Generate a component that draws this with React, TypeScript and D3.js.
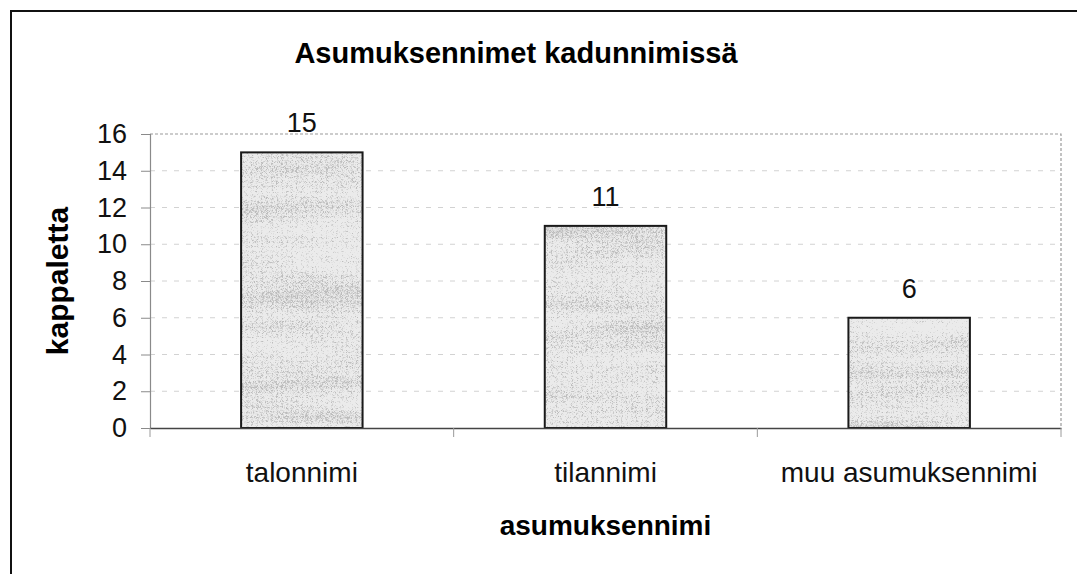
import React, { useEffect, useRef } from 'react';
import * as d3 from 'd3';

const categories = ['talonnimi', 'tilannimi', 'muu asumuksennimi'];
const counts = [15, 11, 6];
const yTicks = [0, 2, 4, 6, 8, 10, 12, 14, 16];

const chartTitle = 'Asumuksennimet kadunnimissä';
const xTitle = 'asumuksennimi';
const yTitle = 'kappaletta';

function BarChart({ width = 1077, height = 574 }) {
  const svgRef = useRef<SVGSVGElement>(null);

  useEffect(() => {
    const margin = { top: 134, right: 16, bottom: 146, left: 150 };
    const font = 'Arial, "Liberation Sans", sans-serif';

    const svg = d3.select(svgRef.current);
    svg.selectAll('*').remove();
    svg.attr('width', width).attr('height', height);

    // speckled, banded texture for the bars, like the scanned original
    const defs = svg.append('defs');
    const grain = defs.append('filter').attr('id', 'grain')
      .attr('x', 0).attr('y', 0).attr('width', 1).attr('height', 1);
    grain.append('feTurbulence')
      .attr('type', 'fractalNoise')
      .attr('baseFrequency', '0.004 0.045')
      .attr('numOctaves', 2)
      .attr('seed', 11)
      .attr('result', 'bands');
    grain.append('feTurbulence')
      .attr('type', 'turbulence')
      .attr('baseFrequency', '1.2')
      .attr('numOctaves', 1)
      .attr('seed', 4)
      .attr('result', 'noise');
    grain.append('feComposite')
      .attr('in', 'noise').attr('in2', 'bands')
      .attr('operator', 'arithmetic')
      .attr('k1', 0).attr('k2', 1.0).attr('k3', 0.6).attr('k4', 0)
      .attr('result', 'mix');
    grain.append('feColorMatrix')
      .attr('in', 'mix')
      .attr('type', 'matrix')
      .attr('values', '0 0 0 0 0.5  0 0 0 0 0.5  0 0 0 0 0.5  0 0 0 3.0 -1.3')
      .attr('result', 'dots');
    grain.append('feComposite')
      .attr('in', 'dots').attr('in2', 'SourceGraphic').attr('operator', 'in')
      .attr('result', 'clipped');
    const merge = grain.append('feMerge');
    merge.append('feMergeNode').attr('in', 'SourceGraphic');
    merge.append('feMergeNode').attr('in', 'clipped');

    const x = d3.scaleBand()
      .domain(categories)
      .range([margin.left, width - margin.right])
      .paddingInner(0.6)
      .paddingOuter(0.3);

    const y = d3.scaleLinear()
      .domain([0, 16])
      .range([height - margin.bottom, margin.top]);

    const x0 = margin.left;
    const x1 = width - margin.right;
    const y0 = y(0);
    const y1 = y(16);

    // outer chart border (right and bottom edges fall outside the picture)
    svg.append('rect')
      .attr('x', 11).attr('y', 11)
      .attr('width', width + 20).attr('height', height + 20)
      .attr('fill', 'white')
      .attr('stroke', '#111')
      .attr('stroke-width', 2);

    // gridlines
    svg.append('g')
      .selectAll('line')
      .data(yTicks.filter(t => t > 0 && t < 16))
      .join('line')
      .attr('x1', x0).attr('x2', x1)
      .attr('y1', d => y(d)).attr('y2', d => y(d))
      .attr('stroke', '#d2d2d2')
      .attr('stroke-width', 1)
      .attr('stroke-dasharray', '5,7');

    // plot area border
    svg.append('path')
      .attr('d', `M${x0},${y1}H${x1}V${y0}`)
      .attr('fill', 'none')
      .attr('stroke', '#9a9a9a')
      .attr('stroke-width', 1.2)
      .attr('stroke-dasharray', '3,2');

    // bars
    const bars = svg.append('g');
    bars.selectAll('rect.fill')
      .data(counts)
      .join('rect')
      .attr('class', 'fill')
      .attr('x', (d, i) => x(categories[i]))
      .attr('y', d => y(d))
      .attr('width', x.bandwidth())
      .attr('height', d => y0 - y(d))
      .attr('fill', '#ebebeb')
      .attr('filter', 'url(#grain)');
    bars.selectAll('rect.edge')
      .data(counts)
      .join('rect')
      .attr('class', 'edge')
      .attr('x', (d, i) => x(categories[i]))
      .attr('y', d => y(d))
      .attr('width', x.bandwidth())
      .attr('height', d => y0 - y(d))
      .attr('fill', 'none')
      .attr('stroke', '#1a1a1a')
      .attr('stroke-width', 2);

    // value labels
    svg.append('g')
      .selectAll('text')
      .data(counts)
      .join('text')
      .attr('x', (d, i) => x(categories[i]) + x.bandwidth() / 2)
      .attr('y', d => y(d) - 20)
      .attr('text-anchor', 'middle')
      .attr('font-family', font)
      .attr('font-size', 27)
      .attr('fill', '#111')
      .text(d => d);

    // y axis
    const yAxis = svg.append('g')
      .attr('transform', `translate(${x0},0)`)
      .call(d3.axisLeft(y).tickValues(yTicks).tickSize(9).tickPadding(14));
    yAxis.select('.domain').attr('stroke', '#8a8a8a').attr('stroke-width', 1.2);
    yAxis.selectAll('.tick line').attr('stroke', '#8a8a8a');
    yAxis.selectAll('.tick text')
      .attr('font-family', font)
      .attr('font-size', 27)
      .attr('fill', '#111');

    // x axis
    const xAxis = svg.append('g')
      .attr('transform', `translate(0,${y0})`)
      .call(d3.axisBottom(x).tickSize(0).tickPadding(34));
    xAxis.select('.domain').attr('stroke', '#444').attr('stroke-width', 1.5);
    xAxis.selectAll('.tick text')
      .attr('font-family', font)
      .attr('font-size', 28)
      .attr('fill', '#111');
    // category separator ticks
    xAxis.selectAll('line.sep')
      .data(d3.range(categories.length + 1))
      .join('line')
      .attr('class', 'sep')
      .attr('x1', i => x0 + i * x.step())
      .attr('x2', i => x0 + i * x.step())
      .attr('y1', 0).attr('y2', 9)
      .attr('stroke', '#9a9a9a');

    // titles
    svg.append('text')
      .attr('x', 516).attr('y', 63)
      .attr('text-anchor', 'middle')
      .attr('font-family', font)
      .attr('font-weight', 'bold')
      .attr('font-size', 29)
      .attr('fill', '#000')
      .text(chartTitle);

    svg.append('text')
      .attr('x', (x0 + x1) / 2).attr('y', 535)
      .attr('text-anchor', 'middle')
      .attr('font-family', font)
      .attr('font-weight', 'bold')
      .attr('font-size', 28)
      .attr('fill', '#000')
      .text(xTitle);

    svg.append('text')
      .attr('transform', `translate(68,${(y0 + y1) / 2}) rotate(-90)`)
      .attr('text-anchor', 'middle')
      .attr('font-family', font)
      .attr('font-weight', 'bold')
      .attr('font-size', 30)
      .attr('fill', '#000')
      .text(yTitle);
  }, [width, height]);

  return <svg ref={svgRef} style={{ display: 'block' }} />;
}

export default function App() {
  return (
    <div style={{ position: 'fixed', left: 0, top: 0, background: 'white' }}>
      <BarChart />
    </div>
  );
}
